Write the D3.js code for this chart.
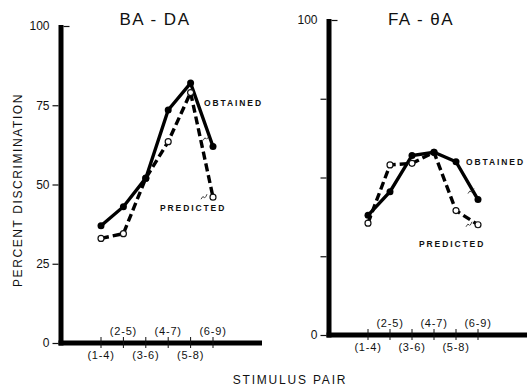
<!DOCTYPE html>
<html>
<head>
<meta charset="utf-8">
<script src="https://cdn.jsdelivr.net/npm/d3@7"></script>
<style>
  body { margin: 0; background: #fff; }
  svg text { font-family: "Liberation Sans", "DejaVu Sans", sans-serif; fill: #111; }
</style>
</head>
<body>
<svg class="chart" width="527" height="389"></svg>
<script>
'use strict';

var PAIRS = ['(1-4)', '(2-5)', '(3-6)', '(4-7)', '(5-8)', '(6-9)'];
var Y_TICKS = [0, 25, 50, 75, 100];

var BADA_OBTAINED = [37, 43, 52, 73.5, 82, 62];
var BADA_PREDICTED = [33, 34.5, 52, 63.5, 79, 46];

var FATA_OBTAINED = [38, 45.5, 57, 58, 55, 43];
var FATA_PREDICTED = [35.5, 54, 54.5, 58, 39.5, 35];

var PANELS = [
    { title: 'BA - DA', axisX: 61, top: 26, bottom: 343, right: 262, xRange: [101, 213],
      tickLabels: true, obtained: BADA_OBTAINED, predicted: BADA_PREDICTED,
      obtLabel: { i: 5, dx: -9, dy: -40 }, preLabel: { i: 5, dx: -53, dy: 14 } },
    { title: 'FA - \u03B8A', axisX: 329, top: 20, bottom: 335, right: 527, xRange: [368, 478],
      tickLabels: false, obtained: FATA_OBTAINED, predicted: FATA_PREDICTED,
      obtLabel: { i: 5, dx: -12, dy: -35 }, preLabel: { i: 5, dx: -59, dy: 22 } }
];

var AXIS_W = 5;

var svg = d3.select('svg.chart');

PANELS.forEach(function (p) {
    drawPanel(p);
});

// shared axis titles
svg.append('text')
    .attr('transform', 'translate(22,190) rotate(-90)')
    .attr('text-anchor', 'middle')
    .style('font-size', '12px')
    .style('letter-spacing', '1.6px')
    .text('PERCENT DISCRIMINATION');

svg.append('text')
    .attr('x', 290)
    .attr('y', 384)
    .attr('text-anchor', 'middle')
    .style('font-size', '12px')
    .style('letter-spacing', '1.8px')
    .text('STIMULUS PAIR');

function drawPanel(p) {
    var x = d3.scalePoint().domain(PAIRS).range(p.xRange);
    var y = d3.scaleLinear().domain([0, 100]).range([p.bottom, p.top]);
    var g = svg.append('g');

    // title
    g.append('text')
        .attr('x', (p.xRange[0] + p.xRange[1]) / 2 - 2)
        .attr('y', 25)
        .attr('text-anchor', 'middle')
        .style('font-size', '17px')
        .style('letter-spacing', '1.5px')
        .text(p.title);

    // y axis ticks and labels
    var yAxis = d3.axisLeft(y).tickValues(Y_TICKS).tickSize(6).tickPadding(3)
        .tickFormat(function (d) {
            return (p.tickLabels || d === 0 || d === 100) ? d : '';
        });
    var ya = g.append('g')
        .attr('transform', 'translate(' + (p.axisX - AXIS_W / 2) + ',0)')
        .call(yAxis);
    ya.select('.domain').remove();
    ya.selectAll('.tick line').attr('stroke', '#111').attr('stroke-width', 1.2);
    ya.selectAll('.tick text').style('font-size', '12px');
    ya.selectAll('.tick').filter(function (d) { return d === 100; })
        .select('line').attr('x1', AXIS_W).attr('x2', AXIS_W + 6);

    // thick axis bars
    g.append('rect')
        .attr('x', p.axisX - AXIS_W / 2)
        .attr('y', y(100) - 1)
        .attr('width', AXIS_W)
        .attr('height', y(0) - y(100) + AXIS_W / 2 + 1)
        .attr('fill', '#000');

    g.append('rect')
        .attr('x', p.axisX - AXIS_W / 2)
        .attr('y', y(0) - AXIS_W / 2)
        .attr('width', p.right - p.axisX + AXIS_W / 2)
        .attr('height', AXIS_W)
        .attr('fill', '#000');

    g.selectAll('line.xtick')
        .data(PAIRS)
        .enter()
        .append('line')
        .attr('class', 'xtick')
        .attr('x1', function (d) { return x(d); })
        .attr('x2', function (d) { return x(d); })
        .attr('y1', y(0) - 6)
        .attr('y2', y(0) + 5)
        .attr('stroke', '#111').attr('stroke-width', 1);

    g.selectAll('text.xlab')
        .data(PAIRS)
        .enter()
        .append('text')
        .attr('class', 'xlab')
        .attr('x', function (d) { return x(d); })
        .attr('y', function (d, i) { return i % 2 ? y(0) - 8 : y(0) + 16; })
        .attr('text-anchor', 'middle')
        .style('font-size', '11px')
        .style('letter-spacing', '0.8px')
        .text(function (d) { return d; });

    // series lines
    var line = d3.line()
        .x(function (d, i) { return x(PAIRS[i]); })
        .y(function (d) { return y(d); });

    g.append('path')
        .datum(p.predicted)
        .attr('d', line)
        .attr('fill', 'none')
        .attr('stroke', '#000')
        .attr('stroke-width', 3.4)
        .attr('stroke-dasharray', '8,4');

    g.append('path')
        .datum(p.obtained)
        .attr('d', line)
        .attr('fill', 'none')
        .attr('stroke', '#000')
        .attr('stroke-width', 3.4);

    g.selectAll('circle.pre')
        .data(p.predicted)
        .enter()
        .append('circle')
        .attr('class', 'pre')
        .attr('cx', function (d, i) { return x(PAIRS[i]); })
        .attr('cy', function (d) { return y(d); })
        .attr('r', 3)
        .attr('fill', '#fff')
        .attr('stroke', '#111')
        .attr('stroke-width', 1.2);

    g.selectAll('circle.obt')
        .data(p.obtained)
        .enter()
        .append('circle')
        .attr('class', 'obt')
        .attr('cx', function (d, i) { return x(PAIRS[i]); })
        .attr('cy', function (d) { return y(d); })
        .attr('r', 3.5)
        .attr('fill', '#000');

    // series annotations
    var oi = p.obtLabel.i, pi = p.preLabel.i;
    addLabel(g, 'OBTAINED', x(PAIRS[oi]) + p.obtLabel.dx, y(p.obtained[oi]) + p.obtLabel.dy,
        x(PAIRS[oi]) - 4, y(p.obtained[oi]) - 12);
    addLabel(g, 'PREDICTED', x(PAIRS[pi]) + p.preLabel.dx, y(p.predicted[pi]) + p.preLabel.dy,
        x(PAIRS[pi]) - 6, y(p.predicted[pi]) - 4);
}

function addLabel(g, txt, lx, ly, tx, ty) {
    g.append('text')
        .attr('x', lx)
        .attr('y', ly)
        .style('font-size', '8.5px')
        .style('font-weight', 'bold')
        .style('letter-spacing', '1.9px')
        .text(txt);

    // small wavy leader from the label toward the line
    var sx = tx - 6, sy = ty + 6;
    g.append('path')
        .attr('d', 'M' + sx + ',' + sy + ' q2,-4 3,-2 t3,-3')
        .attr('fill', 'none')
        .attr('stroke', '#111')
        .attr('stroke-width', 0.8);
}
</script>
</body>
</html>
